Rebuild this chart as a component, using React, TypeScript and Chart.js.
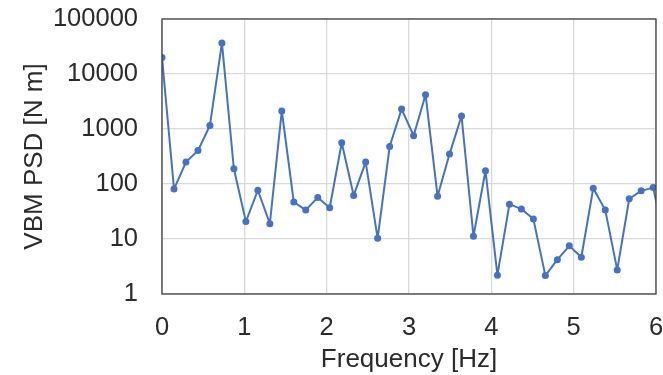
import React, { useEffect, useRef } from "react";
import { Chart, registerables } from "chart.js";

Chart.register(...registerables);

const frequencies = [
  0, 0.146, 0.291, 0.437, 0.582, 0.728, 0.873, 1.019, 1.164, 1.31, 1.455, 1.601,
  1.746, 1.892, 2.037, 2.183, 2.328, 2.474, 2.619, 2.765, 2.91, 3.056, 3.201,
  3.347, 3.492, 3.638, 3.783, 3.929, 4.074, 4.22, 4.365, 4.511, 4.656, 4.802,
  4.947, 5.093, 5.238, 5.384, 5.529, 5.675, 5.82, 5.966, 6.111,
];
const vbmPsd = [
  20000, 81, 250, 405, 1160, 36800, 189, 20.7, 77, 19, 2130, 47, 33.5, 57, 37,
  563, 62, 250, 10.3, 480, 2300, 755, 4200, 60, 350, 1725, 11.2, 174, 2.2, 43,
  35, 23, 2.16, 4.2, 7.5, 4.66, 84, 33.5, 2.74, 54, 75, 86, 8,
];
const yTicks = [1, 10, 100, 1000, 10000, 100000];
const xTitle = "Frequency [Hz]";
const yTitle = "VBM PSD [N m]";

const FONT = "'Liberation Sans', Arial, sans-serif";
const TEXT = "#2b2b2b";

const boxPlugin = {
  id: "box",
  afterDatasetsDraw(chart: any) {
    const { ctx, chartArea } = chart;
    ctx.save();
    ctx.strokeStyle = "#404040";
    ctx.lineWidth = 1.3;
    ctx.strokeRect(chartArea.left, chartArea.top, chartArea.right - chartArea.left, chartArea.bottom - chartArea.top);
    ctx.restore();
  },
};

const zeroPad = (s: any) => {
  s.paddingTop = 0;
  s.paddingBottom = 0;
  s.paddingLeft = 0;
  s.paddingRight = 0;
};

export default function App() {
  const ref = useRef<HTMLCanvasElement>(null);
  useEffect(() => {
    if (!ref.current) return;
    const chart = new Chart(ref.current, {
      type: "line",
      data: {
        datasets: [
          {
            data: frequencies.map((f, i) => ({ x: f, y: vbmPsd[i] })),
            borderColor: "#4472C4",
            backgroundColor: "#4472C4",
            borderWidth: 2,
            borderJoinStyle: "round",
            pointRadius: 3.5,
            pointBorderWidth: 0,
            tension: 0,
          },
        ],
      },
      plugins: [boxPlugin],
      options: {
        responsive: false,
        animation: false,
        layout: { padding: { top: 19, right: 7, bottom: 0, left: 0 } },
        plugins: { legend: { display: false }, tooltip: { enabled: false } },
        scales: {
          x: {
            type: "linear",
            min: 0,
            max: 6,
            afterFit: (s: any) => {
              s.height = 81;
              zeroPad(s);
            },
            ticks: { stepSize: 1, padding: 19, color: TEXT, font: { family: FONT, size: 25.5 } },
            grid: { color: "#d9d9d9", lineWidth: 1.3, drawTicks: false },
            border: { display: false },
            title: { display: true, text: xTitle, color: TEXT, font: { family: FONT, size: 26 }, padding: { top: 0, bottom: 0 } },
          },
          y: {
            type: "logarithmic",
            min: 1,
            max: 100000,
            afterFit: (s: any) => {
              s.width = 162;
              zeroPad(s);
            },
            afterBuildTicks: (s: any) => {
              s.ticks = yTicks.map((v) => ({ value: v }));
            },
            ticks: {
              padding: 24,
              color: TEXT,
              font: { family: FONT, size: 25.5 },
              callback: (v: any) => String(v),
            },
            grid: { color: "#d9d9d9", lineWidth: 1.3, drawTicks: false },
            border: { display: false },
            title: { display: true, text: yTitle, color: TEXT, font: { family: FONT, size: 26 }, padding: { top: 19, bottom: 0 } },
          },
        },
      },
    });
    return () => chart.destroy();
  }, []);
  return (
    <div style={{ position: "absolute", left: 0, top: 0, width: 663, height: 375, background: "#fff" }}>
      <canvas ref={ref} width={663} height={375} />
    </div>
  );
}
